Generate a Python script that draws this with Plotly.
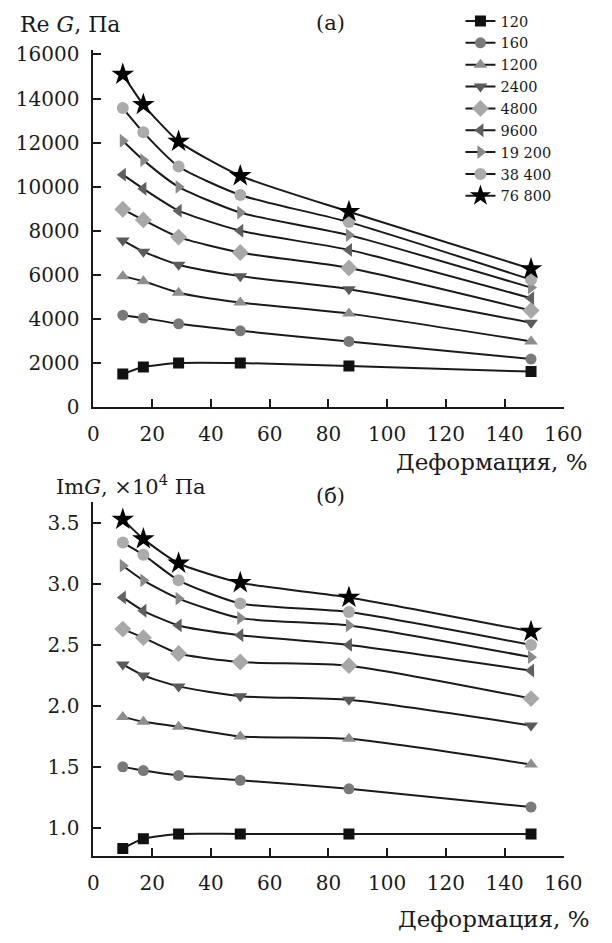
import plotly.graph_objects as go

strain = [10, 17, 29, 50, 87, 149]
freqs = ["120", "160", "1200", "2400", "4800", "9600", "19200", "38400", "76800"]

re_g = {
    "120":   [1510, 1830, 2010, 2010, 1880, 1620],
    "160":   [4180, 4050, 3790, 3470, 2990, 2190],
    "1200":  [5950, 5720, 5200, 4750, 4250, 2990],
    "2400":  [7570, 7060, 6470, 5950, 5360, 3840],
    "4800":  [8980, 8500, 7720, 7020, 6320, 4390],
    "9600":  [10550, 9910, 8920, 8010, 7140, 4950],
    "19200": [12090, 11210, 10000, 8830, 7810, 5430],
    "38400": [13570, 12470, 10920, 9630, 8400, 5790],
    "76800": [15100, 13730, 12060, 10500, 8870, 6280],
}

im_g = {
    "120":   [0.83, 0.91, 0.95, 0.95, 0.95, 0.95],
    "160":   [1.50, 1.47, 1.43, 1.39, 1.32, 1.17],
    "1200":  [1.91, 1.87, 1.83, 1.75, 1.73, 1.52],
    "2400":  [2.34, 2.25, 2.16, 2.08, 2.05, 1.84],
    "4800":  [2.63, 2.56, 2.43, 2.36, 2.33, 2.06],
    "9600":  [2.89, 2.78, 2.66, 2.58, 2.50, 2.29],
    "19200": [3.15, 3.03, 2.88, 2.72, 2.66, 2.40],
    "38400": [3.34, 3.24, 3.03, 2.84, 2.77, 2.50],
    "76800": [3.53, 3.37, 3.17, 3.01, 2.89, 2.61],
}

legend_labels = ["120", "160", "1200", "2400", "4800", "9600", "19 200", "38 400", "76 800"]

styles = {
    "120":   dict(symbol="square", color="#111111", size=11),
    "160":   dict(symbol="circle", color="#7a7a7a", size=11),
    "1200":  dict(symbol="triangle-up", color="#8e8e8e", size=12),
    "2400":  dict(symbol="triangle-down", color="#5a5a5a", size=12),
    "4800":  dict(symbol="diamond", color="#a8a8a8", size=13),
    "9600":  dict(symbol="triangle-left", color="#606060", size=12),
    "19200": dict(symbol="triangle-right", color="#8a8a8a", size=12),
    "38400": dict(symbol="circle", color="#ababab", size=12),
    "76800": dict(symbol="star", color="#000000", size=17),
}

FONT = "DejaVu Serif"
INK = "#1a1a1a"

fig = go.Figure()
for f, lab in zip(freqs, legend_labels):
    st = styles[f]
    fig.add_trace(go.Scatter(
        x=strain, y=re_g[f], name=lab, mode="lines+markers",
        line=dict(color=INK, width=2, shape="spline", smoothing=0.6),
        marker=dict(symbol=st["symbol"], color=st["color"], size=st["size"], line=dict(width=0)),
        xaxis="x", yaxis="y", showlegend=True,
    ))
for f in freqs:
    st = styles[f]
    fig.add_trace(go.Scatter(
        x=strain, y=im_g[f], mode="lines+markers",
        line=dict(color=INK, width=2, shape="spline", smoothing=0.6),
        marker=dict(symbol=st["symbol"], color=st["color"], size=st["size"], line=dict(width=0)),
        xaxis="x2", yaxis="y2", showlegend=False,
    ))

W, H = 612, 943
def px_x(p):
    return p / W
def px_y(p):
    return 1 - p / H

axis_common = dict(
    showgrid=False, zeroline=False, showline=True, linecolor=INK, linewidth=2,
    ticks="inside", ticklen=8, tickwidth=1.5, tickcolor=INK,
    tickfont=dict(family=FONT, size=20, color=INK),
    ticklabelstandoff=8,
)

fig.update_layout(
    width=W, height=H,
    margin=dict(l=0, r=0, t=0, b=0),
    paper_bgcolor="white", plot_bgcolor="white",
    font=dict(family=FONT, color=INK),
    xaxis=dict(domain=[px_x(91), px_x(581)], range=[0, 160.3], tickvals=[0, 20, 40, 60, 80, 100, 120, 140, 160],
               anchor="y", **axis_common),
    yaxis=dict(domain=[px_y(408), px_y(43)], range=[0, 16200], tickvals=[0, 2000, 4000, 6000, 8000, 10000, 12000, 14000, 16000],
               tickformat="d", anchor="x", **axis_common),
    xaxis2=dict(domain=[px_x(91), px_x(581)], range=[0, 160.3], tickvals=[0, 20, 40, 60, 80, 100, 120, 140, 160],
                anchor="y2", **axis_common),
    yaxis2=dict(domain=[px_y(866), px_y(505)], range=[0.772, 3.67], tickvals=[1.0, 1.5, 2.0, 2.5, 3.0, 3.5],
                tickformat=".1f", anchor="x2", **axis_common),
    legend=dict(x=px_x(473), y=1 + 3 / H, xanchor="left", yanchor="top",
                font=dict(family=FONT, size=14.5, color=INK), bgcolor="rgba(0,0,0,0)",
                itemwidth=30, tracegroupgap=0),
    annotations=[
        dict(text="Re <i>G</i>, Па", x=px_x(13), y=px_y(17), xref="paper", yref="paper",
             xanchor="left", yanchor="middle", showarrow=False, font=dict(family=FONT, size=22, color=INK)),
        dict(text="(a)", x=px_x(338), y=px_y(15), xref="paper", yref="paper",
             xanchor="center", yanchor="middle", showarrow=False, font=dict(family=FONT, size=21, color=INK)),
        dict(text="Деформация, %", x=px_x(506), y=px_y(464), xref="paper", yref="paper",
             xanchor="center", yanchor="middle", showarrow=False, font=dict(family=FONT, size=23, color=INK)),
        dict(text="Im<i>G</i>, ×10<sup>4</sup> Па", x=px_x(50), y=px_y(487), xref="paper", yref="paper",
             xanchor="left", yanchor="middle", showarrow=False, font=dict(family=FONT, size=21, color=INK)),
        dict(text="(б)", x=px_x(338), y=px_y(499), xref="paper", yref="paper",
             xanchor="center", yanchor="middle", showarrow=False, font=dict(family=FONT, size=21, color=INK)),
        dict(text="Деформация, %", x=px_x(508), y=px_y(931), xref="paper", yref="paper",
             xanchor="center", yanchor="middle", showarrow=False, font=dict(family=FONT, size=23, color=INK)),
    ],
)

fig.write_html("out.html")
